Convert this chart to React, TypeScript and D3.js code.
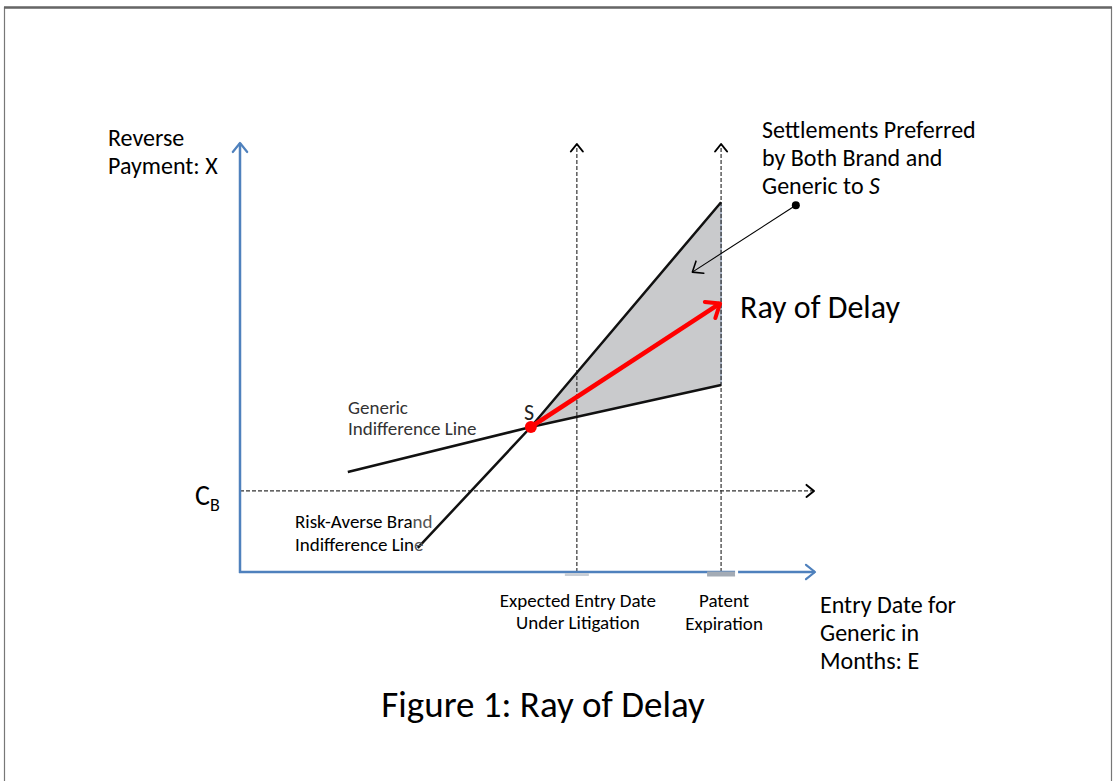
import * as React from 'react';
import * as d3 from 'd3';

// Diagram values (months on E, payment units on X)
const xDomain = [0, 120];
const yDomain = [0, 100];
const litigationEntry = 70.3;
const patentExpiry = 100.4;
const pointS = { e: 60.7, x: 33.8 };
const costBrand = 18.9;
const genericLine = [
  { e: 22.5, x: 23.3 },
  { e: 60.7, x: 33.8 },
  { e: 100.4, x: 43.6 },
];
const brandLine = [
  { e: 37.1, x: 5.6 },
  { e: 60.7, x: 33.8 },
  { e: 100.4, x: 86.2 },
];
const rayTip = { e: 100.2, x: 62.6 };
const noteDot = { e: 116.0, x: 85.5 };
const noteTip = { e: 94.4, x: 69.9 };

const yAxisLabel = ['Reverse', 'Payment: X'];
const xAxisLabel = ['Entry Date for', 'Generic in', 'Months: E'];
const litigationLabel = ['Expected Entry Date', 'Under Litigation'];
const patentLabel = ['Patent', 'Expiration'];
const noteLabel = ['Settlements Preferred', 'by Both Brand and'];

const FONT = "Calibri, Carlito, Lato, 'Open Sans', sans-serif";
const BLUE = '#4F81BD';

const App: React.FC = () => {
  const x = d3.scaleLinear().domain(xDomain).range([240, 815]);
  const y = d3.scaleLinear().domain(yDomain).range([572, 143]);

  const line = d3
    .line<{ e: number; x: number }>()
    .x((d) => x(d.e))
    .y((d) => y(d.x));

  const region = [pointS, brandLine[2], genericLine[2]];
  const regionPath = line(region) + 'Z';

  const chevron = (id: string, color: string, size: number, sw: number) => (
    <marker
      id={id}
      viewBox={`-${size} -${size} ${size * 2} ${size * 2}`}
      markerWidth={size * 2}
      markerHeight={size * 2}
      markerUnits="userSpaceOnUse"
      orient="auto"
      refX={0}
      refY={0}
    >
      <path
        d={`M${-size * 0.75},${-size * 0.6}L0,0L${-size * 0.75},${size * 0.6}`}
        fill="none"
        stroke={color}
        strokeWidth={sw}
        strokeLinecap="round"
        strokeLinejoin="round"
      />
    </marker>
  );

  return (
    <svg
      width={1115}
      height={781}
      style={{ position: 'absolute', left: 0, top: 0, background: '#fff' }}
      fontFamily={FONT}
    >
      <defs>
        {chevron('arrBlue', BLUE, 12, 2.2)}
        {chevron('arrBlack', '#000', 10, 2)}
        {chevron('arrRed', '#FF0000', 16, 4)}
        {chevron('arrNote', '#000', 12, 1.6)}
      </defs>

      {/* page frame */}
      <rect x={4.5} y={7.5} width={1107} height={800} fill="none" stroke="#777" strokeWidth={1.2} />
      <line x1={4} x2={1112} y1={7.5} y2={7.5} stroke="#666" strokeWidth={2.5} />

      {/* shaded settlement region */}
      <path d={regionPath} fill="#C9CACC" stroke="none" />
      <line
        x1={x(patentExpiry)}
        x2={x(patentExpiry)}
        y1={y(brandLine[2].x)}
        y2={y(genericLine[2].x)}
        stroke="#8A9BB5"
        strokeWidth={1.2}
      />

      {/* dashed guides */}
      <line
        x1={x(0)}
        x2={x(xDomain[1]) - 1}
        y1={y(costBrand)}
        y2={y(costBrand)}
        stroke="#333"
        strokeWidth={1.2}
        strokeDasharray="4,2"
        markerEnd="url(#arrBlack)"
      />
      {[litigationEntry, patentExpiry].map((v) => (
        <line
          key={v}
          x1={x(v)}
          x2={x(v)}
          y1={y(0)}
          y2={y(yDomain[1]) + 1}
          stroke="#333"
          strokeWidth={1.2}
          strokeDasharray="4,2"
          markerEnd="url(#arrBlack)"
        />
      ))}

      {/* axes */}
      <line x1={x(0)} x2={x(0)} y1={y(0) + 1} y2={y(yDomain[1])} stroke={BLUE} strokeWidth={2.5} markerEnd="url(#arrBlue)" />
      <line x1={x(0) - 1} x2={x(xDomain[1])} y1={y(0)} y2={y(0)} stroke={BLUE} strokeWidth={2.5} markerEnd="url(#arrBlue)" />
      <rect x={x(patentExpiry) - 14} y={y(0) - 0.5} width={28} height={5} fill="#A3ABB5" />
      <rect x={x(patentExpiry) + 14} y={y(0) - 2} width={3} height={5} fill="#fff" />
      <rect x={x(litigationEntry) - 12} y={y(0) + 1} width={24} height={3} fill="#C8CED6" />

      {/* indifference lines */}
      <path d={line(genericLine) || ''} fill="none" stroke="#111" strokeWidth={2.5} />
      <path d={line(brandLine) || ''} fill="none" stroke="#111" strokeWidth={2.5} />

      {/* ray of delay */}
      <line
        x1={x(pointS.e)}
        y1={y(pointS.x)}
        x2={x(rayTip.e)}
        y2={y(rayTip.x)}
        stroke="#FF0000"
        strokeWidth={4.5}
        markerEnd="url(#arrRed)"
      />
      <circle cx={x(pointS.e)} cy={y(pointS.x)} r={6} fill="#FF0000" />

      {/* annotation pointer */}
      <line
        x1={x(noteDot.e)}
        y1={y(noteDot.x)}
        x2={x(noteTip.e)}
        y2={y(noteTip.x)}
        stroke="#000"
        strokeWidth={1.1}
        markerEnd="url(#arrNote)"
      />
      <circle cx={x(noteDot.e)} cy={y(noteDot.x)} r={4} fill="#000" />

      {/* texts */}
      <g fontSize={24} fill="#000">
        {yAxisLabel.map((t, i) => (
          <text key={t} x={108} y={146 + i * 28}>
            {t}
          </text>
        ))}
        {noteLabel.map((t, i) => (
          <text key={t} x={762} y={138 + i * 28}>
            {t}
          </text>
        ))}
        <text x={762} y={194}>
          Generic to <tspan fontStyle="italic">S</tspan>
        </text>
        {xAxisLabel.map((t, i) => (
          <text key={t} x={820} y={613 + i * 28}>
            {t}
          </text>
        ))}
      </g>
      <text x={524} y={420} fontSize={22} fill="#222">
        S
      </text>

      <text x={740} y={318} fontSize={32} fill="#000">
        Ray of Delay
      </text>

      <g fontSize={19} fill="#333">
        <text x={348} y={414}>
          Generic
        </text>
        <text x={348} y={435}>
          Indifference Line
        </text>
      </g>

      <g fontSize={19} fill="#000">
        <text x={295} y={528}>
          Risk-Averse Bra<tspan fill="#555">nd</tspan>
        </text>
        <text x={295} y={551}>
          Indifference Lin<tspan fill="#555">e</tspan>
        </text>
        {litigationLabel.map((t, i) => (
          <text key={t} x={x(litigationEntry) + 1} y={607 + i * 22} textAnchor="middle">
            {t}
          </text>
        ))}
        {patentLabel.map((t, i) => (
          <text key={t} x={x(patentExpiry) + 3} y={607 + i * 23} textAnchor="middle">
            {t}
          </text>
        ))}
      </g>

      <text x={195} y={505} fontSize={28} fill="#000">
        C<tspan fontSize={18} dy={6}>B</tspan>
      </text>

      <text x={543} y={717} fontSize={37} fill="#000" textAnchor="middle">
        Figure 1: Ray of Delay
      </text>
    </svg>
  );
};

export default App;
